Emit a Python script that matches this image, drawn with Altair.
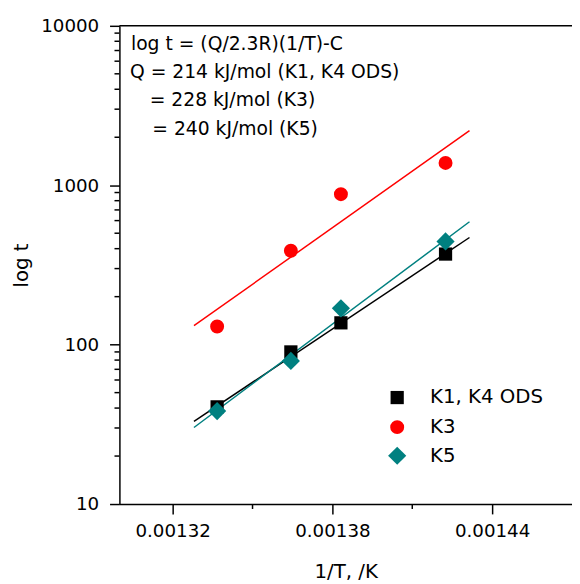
import altair as alt
import pandas as pd

# ---- data ----
series = ["K1, K4 ODS", "K3", "K5"]
colors = ["#000000", "#ff0000", "#008080"]
shapes = ["square", "circle", "diamond"]
sizes = [180, 200, 340]

inv_T = [0.0013367, 0.0013644, 0.0013832, 0.0014225]
t_K1K4 = [40.7, 90, 137, 370]
t_K3 = [130, 388, 879, 1380]
t_K5 = [38.3, 79, 169, 444]

fit_x = [0.0013280, 0.0014315]
fit_K1K4 = [33, 470]
fit_K3 = [131.5, 2198]
fit_K5 = [30.2, 590]

y_major = [10, 100, 1000, 10000]
y_minor = [m * d for d in (10, 100, 1000) for m in range(2, 10)]
x_major = [0.00132, 0.00138, 0.00144]
x_minor = [0.00135, 0.00141]

notes = [
    "log t = (Q/2.3R)(1/T)-C",
    "Q = 214 kJ/mol (K1, K4 ODS)",
    "= 228 kJ/mol (K3)",
    "= 240 kJ/mol (K5)",
]

W, H = 459, 485
FONT = "DejaVu Sans"

pts = pd.DataFrame({
    "x": inv_T * 3,
    "t": t_K1K4 + t_K3 + t_K5,
    "series": [s for s in series for _ in inv_T],
})
fits = pd.DataFrame({
    "x": fit_x * 3,
    "t": fit_K1K4 + fit_K3 + fit_K5,
    "series": [s for s in series for _ in fit_x],
})

xscale = alt.Scale(domain=[0.0013, 0.00147], nice=False, zero=False)
yscale = alt.Scale(type="log", domain=[10, 10000], nice=False)

xaxis = alt.Axis(values=x_major, format=".5f", title="1/T, /K", tickSize=10,
                 labelPadding=8, titleY=68, titleBaseline="middle",
                 labelFontSize=18.5, titleFontSize=20, labelOverlap=False)
yaxis = alt.Axis(values=y_major, format="d", title="log t", tickSize=10,
                 labelPadding=11, titleX=-99, titleY=H / 2, titleAngle=-90,
                 titleAlign="center", titleBaseline="middle",
                 labelFontSize=18.5, titleFontSize=20, labelOverlap=False)

lines = alt.Chart(fits).mark_line(strokeWidth=1.5).encode(
    x=alt.X("x:Q", scale=xscale, axis=xaxis),
    y=alt.Y("t:Q", scale=yscale, axis=yaxis),
    stroke=alt.Stroke("series:N", scale=alt.Scale(domain=series, range=colors), legend=None),
)

point_layers = []
for s, c, sh, sz in zip(series, colors, shapes, sizes):
    point_layers.append(
        alt.Chart(pts).transform_filter(alt.datum.series == s)
        .mark_point(filled=True, opacity=1, color=c, shape=sh, size=sz)
        .encode(x=alt.X("x:Q", scale=xscale), y=alt.Y("t:Q", scale=yscale))
    )

ymin = alt.Chart(pd.DataFrame({"v": y_minor})).mark_rule(color="black", strokeWidth=1.5).encode(
    y=alt.Y("v:Q", scale=yscale), x=alt.value(-5), x2=alt.value(0))
xmin = alt.Chart(pd.DataFrame({"v": x_minor})).mark_rule(color="black", strokeWidth=1.5).encode(
    x=alt.X("v:Q", scale=xscale), y=alt.value(H), y2=alt.value(H + 5))
top = alt.Chart(pd.DataFrame({"a": [0]})).mark_rule(color="black", strokeWidth=1.5).encode(
    x=alt.value(0), x2=alt.value(W), y=alt.value(0))

note_pos = [(11.7, 18.7), (10.7, 47.3), (30.7, 75.7), (33.3, 104.7)]
texts = [
    alt.Chart(pd.DataFrame({"s": [s]})).mark_text(
        align="left", baseline="middle", fontSize=19, font=FONT, color="black"
    ).encode(text="s:N", x=alt.value(px), y=alt.value(py))
    for s, (px, py) in zip(notes, note_pos)
]

# legend (drawn as annotation)
leg_rows = [377, 407, 436]
legend_layers = []
for s, c, sh, sz, ly in zip(series, colors, shapes, sizes, leg_rows):
    one = alt.Chart(pd.DataFrame({"s": [s]}))
    legend_layers.append(
        one.mark_point(filled=True, opacity=1, color=c, shape=sh, size=sz)
        .encode(x=alt.value(281.7), y=alt.value(ly))
    )
    legend_layers.append(
        one.mark_text(align="left", baseline="middle", fontSize=20, font=FONT, color="black")
        .encode(text="s:N", x=alt.value(315), y=alt.value(ly))
    )

chart = alt.layer(lines, *point_layers, ymin, xmin, top, *texts, *legend_layers).properties(
    width=W, height=H,
    autosize=alt.AutoSizeParams(type="none"),
    padding={"left": 113, "top": 14, "right": 0, "bottom": 76},
).configure_view(stroke=None).configure_axis(
    grid=False, domainColor="black", tickColor="black", domainWidth=1.5,
    tickWidth=1.5, labelColor="black", titleColor="black", labelFont=FONT,
    titleFont=FONT, titleFontWeight="normal",
)

chart.save("out.html", embed_options={"renderer": "svg", "actions": False})
